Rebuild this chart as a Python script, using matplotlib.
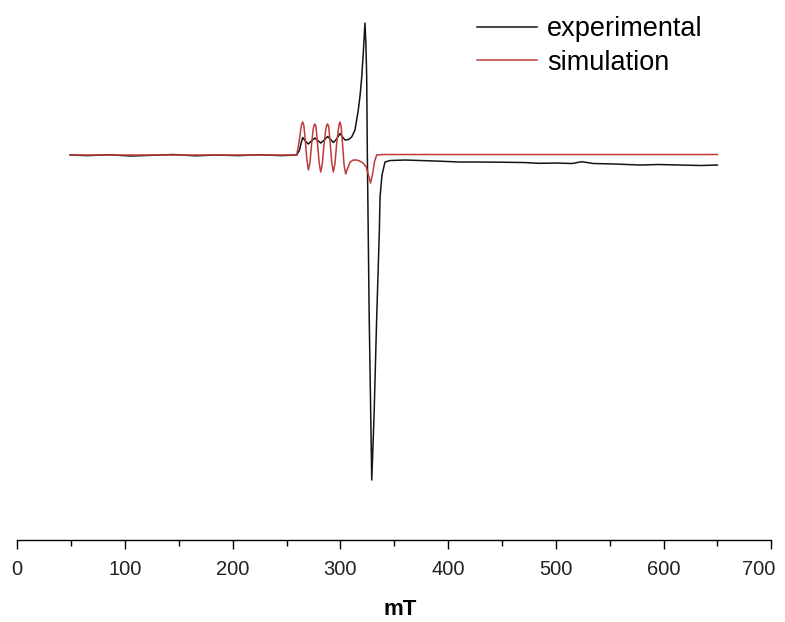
import matplotlib
matplotlib.use("Agg")
import matplotlib.pyplot as plt
from matplotlib.ticker import MultipleLocator

plt.rcParams['font.family'] = ['Liberation Sans', 'DejaVu Sans']

# experimental spectrum (field in mT, signal in arbitrary units)
exp_field = [49, 65, 85, 105, 125, 145, 165, 185, 205, 225, 245,
             259.5, 262, 263.5, 265, 267.5, 270.2, 273, 276.4, 279, 281.7,
             285, 288.2, 291, 293.4, 296.5, 299.6, 302, 304.3, 307.5, 310.5,
             313.5, 316.6, 318.3, 319.8, 321.4, 322.8, 323.7, 324.4, 325,
             326.7, 329.1, 331.2, 333.7, 336.1, 336.8, 338.6, 341.4, 346,
             360, 380, 395, 411, 430, 450, 470, 485, 500, 515, 524, 535,
             555, 578, 595, 615, 635, 650]
exp_signal = [0, -0.6, 0.3, -1, -0.3, 0.5, -0.8, 0, -0.6, 0.3, -0.6,
              0, 5, 12, 17.5, 14, 11, 14, 17, 14.5, 12,
              15, 18.5, 15.5, 12.5, 16, 21.5, 18, 15, 15.5, 18,
              25, 45, 60, 78, 105, 132, 110, 78, 0,
              -160, -325, -262, -162, -78, -42, -20, -7, -5.5,
              -5, -5.7, -6.3, -7, -7, -7.2, -7.5, -8.3, -8, -8.5, -6.7, -8.5,
              -9, -10, -9.5, -10, -10.5, -10]

# simulated spectrum
sim_field = [49, 259.4, 261.5, 263, 264, 265, 266, 267.3, 268.8, 270.2,
             271.7, 273.2, 274.6, 275.6, 276.4, 277.4, 278.7, 280.3, 281.7,
             283.2, 284.7, 286.3, 287.3, 288.2, 289.2, 290.5, 292, 293.4,
             294.9, 296.4, 298, 298.9, 299.6, 300.6, 301.9, 303.4, 304.9,
             306.5, 309, 312, 315.1, 318, 321, 324, 326.5, 328, 329.7,
             331.8, 333.7, 340, 650]
sim_signal = [0, 0, 12, 24, 31, 33, 30, 16, -4, -15,
              -8, 10, 25, 30, 31, 28, 12, -8, -17,
              -9, 10, 25, 30, 31, 28, 12, -8, -17,
              -9, 10, 25, 31, 33, 29, 12, -10, -19,
              -14, -7, -5, -5, -6, -8, -12, -22, -28, -20,
              -6, 0, 0.5, 0.5]

ticks = [0, 100, 200, 300, 400, 500, 600, 700]
tick_labels = ['0', '100', '200', '300', '400', '500', '600', '700']
labels = ['experimental', 'simulation']
colors = ['#141414', '#c03a3a']

fig = plt.figure(figsize=(7.85, 6.22), dpi=100)
ax = fig.add_axes([0.022, 0.1326, 0.9605, 0.8513])

ax.plot(exp_field, exp_signal, color=colors[0], lw=1.1, label=labels[0])
ax.plot(sim_field, sim_signal, color=colors[1], lw=1.1, label=labels[1])

ax.set_xlim(0, 700)
ax.set_ylim(-384.5, 145)
# last label sits on the figure edge, so it is drawn separately and nudged left
ax.set_xticks(ticks, tick_labels[:-1] + [''])
ax.xaxis.set_minor_locator(MultipleLocator(50))
for s in ['left', 'right', 'top']:
    ax.spines[s].set_visible(False)
ax.spines['bottom'].set_linewidth(1.0)
ax.set_yticks([])
ax.tick_params(axis='x', which='major', direction='out', length=6.5,
               width=1.0, labelsize=14.5, pad=8, labelcolor='#222222')
ax.tick_params(axis='x', which='minor', direction='out', length=4, width=1.0)
ax.annotate(tick_labels[-1], xy=(ticks[-1], 0), xycoords=ax.get_xaxis_transform(),
            xytext=(-9, -14.5), textcoords='offset points', ha='center',
            va='top', fontsize=14.5, color='#222222', annotation_clip=False)

fig.text(400 / 785, 1 - 609.7 / 622, 'mT', fontsize=16, fontweight='bold',
         ha='center', va='center')

ax.legend(loc='upper left', bbox_to_anchor=(477 / 785, 1 - 16 / 622),
          bbox_transform=fig.transFigure, frameon=False, fontsize=19.5,
          handlelength=2.22, handletextpad=0.37, labelspacing=0.28,
          borderpad=0, borderaxespad=0)

plt.savefig('out.png', dpi=100)
